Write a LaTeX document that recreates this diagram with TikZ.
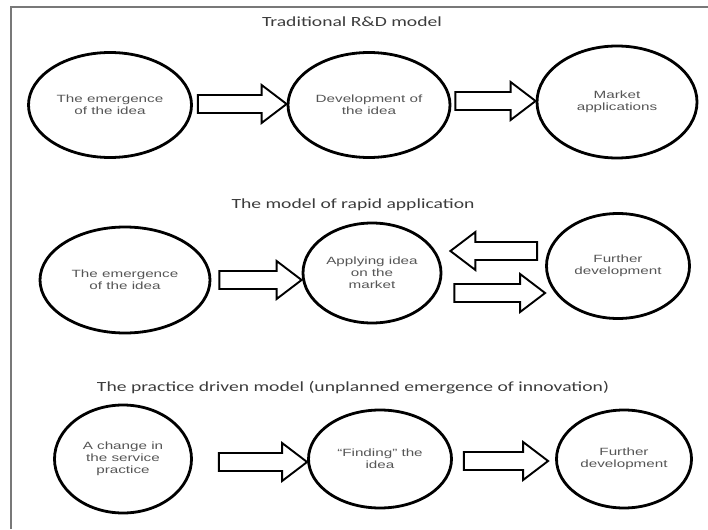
\documentclass[tikz,border=0pt]{standalone}
\usepackage{fontspec}
\usepackage{tikz}
\usetikzlibrary{shapes.geometric, calc, positioning}
\setmainfont{Liberation Sans}
\newfontfamily\headfont[FakeStretch=1.4]{Carlito}
\newfontfamily\bubblefont[FakeStretch=1.45]{Liberation Sans}
\definecolor{framecolor}{RGB}{120,120,120}
\definecolor{headcolor}{RGB}{60,60,60}
\definecolor{labelcolor}{RGB}{85,85,85}

\begin{document}
\begin{tikzpicture}[
    x=1pt, y=-1pt,
    bubble/.style={ellipse, draw=black, line width=2.8pt, inner sep=0pt, align=center, text=labelcolor, font=\bubblefont\fontsize{10.5}{12}\selectfont},
    heading/.style={text=headcolor, inner sep=0pt, font=\headfont\fontsize{14}{16}\selectfont},
    fatarrow/.style={draw=black, line width=1.9pt, line join=miter, fill=white,
        to path={let \p1=(\tikztostart), \p2=(\tikztotarget), \n1={sign(\x2-\x1)*25pt} in
            (\x1,\y1+9pt) -- (\x2-\n1,\y1+9pt) -- (\x2-\n1,\y1+19pt) -- (\x2,\y1)
            -- (\x2-\n1,\y1-19pt) -- (\x2-\n1,\y1-9pt) -- (\x1,\y1-9pt) -- cycle}}
]
\useasboundingbox (0,0) rectangle (708,529);
\draw [framecolor, line width=1.4pt] (11,529) -- (11,7) -- (708,7);

% traditional model
\node (title1) [heading] at (352,22) {Traditional R\&D model};
\node (a1) [bubble, minimum width=163pt, minimum height=105pt] at (110,105) {The emergence\\of the idea};
\node (a2) [bubble, minimum width=162pt, minimum height=105pt] at (369,105) {Development of\\the idea};
\node (a3) [bubble, minimum width=160pt, minimum height=112pt] at (617,102) {Market\\applications};

\draw [fatarrow] ([xshift=5pt, yshift=1pt]a1.east) to (a2.west);
\draw [fatarrow] ([xshift=4pt, yshift=4pt]a2.east) to (a3.west);

% rapid application
\node (title2) [heading] at (353,205) {The model of rapid application};
\node (b1) [bubble, minimum width=170pt, minimum height=106pt] at (125,280) {The emergence\\of the idea};
\node (b2) [bubble, minimum width=138pt, minimum height=100pt] at (372,273) {Applying idea\\on the\\market};
\node (b3) [bubble, minimum width=143pt, minimum height=105pt] at (618,266) {Further\\development};

\draw [fatarrow] ([xshift=8pt]b1.east) to (b2.west);
\draw [fatarrow] ([xshift=-8pt, yshift=15pt]b3.west) to ([xshift=8pt]b2.east);
\draw [fatarrow] ([xshift=12pt, yshift=-20pt]b2.east) to (b3.west);

% practice driven
\node (title3) [heading] at (353,388) {The practice driven model (unplanned emergence of innovation)};
\node (c1) [bubble, minimum width=137pt, minimum height=108pt] at (123,459) {A change in\\the service\\practice};
\node (c2) [bubble, minimum width=143pt, minimum height=98pt] at (380,459) {“Finding” the\\idea};
\node (c3) [bubble, minimum width=135pt, minimum height=98pt] at (624,459) {Further\\development};

\draw [fatarrow] ([xshift=26pt, yshift=-3pt]c1.east) to (c2.west);
\draw [fatarrow] ([xshift=11pt, yshift=-2pt]c2.east) to ([xshift=-7pt]c3.west);
\end{tikzpicture}
\end{document}
